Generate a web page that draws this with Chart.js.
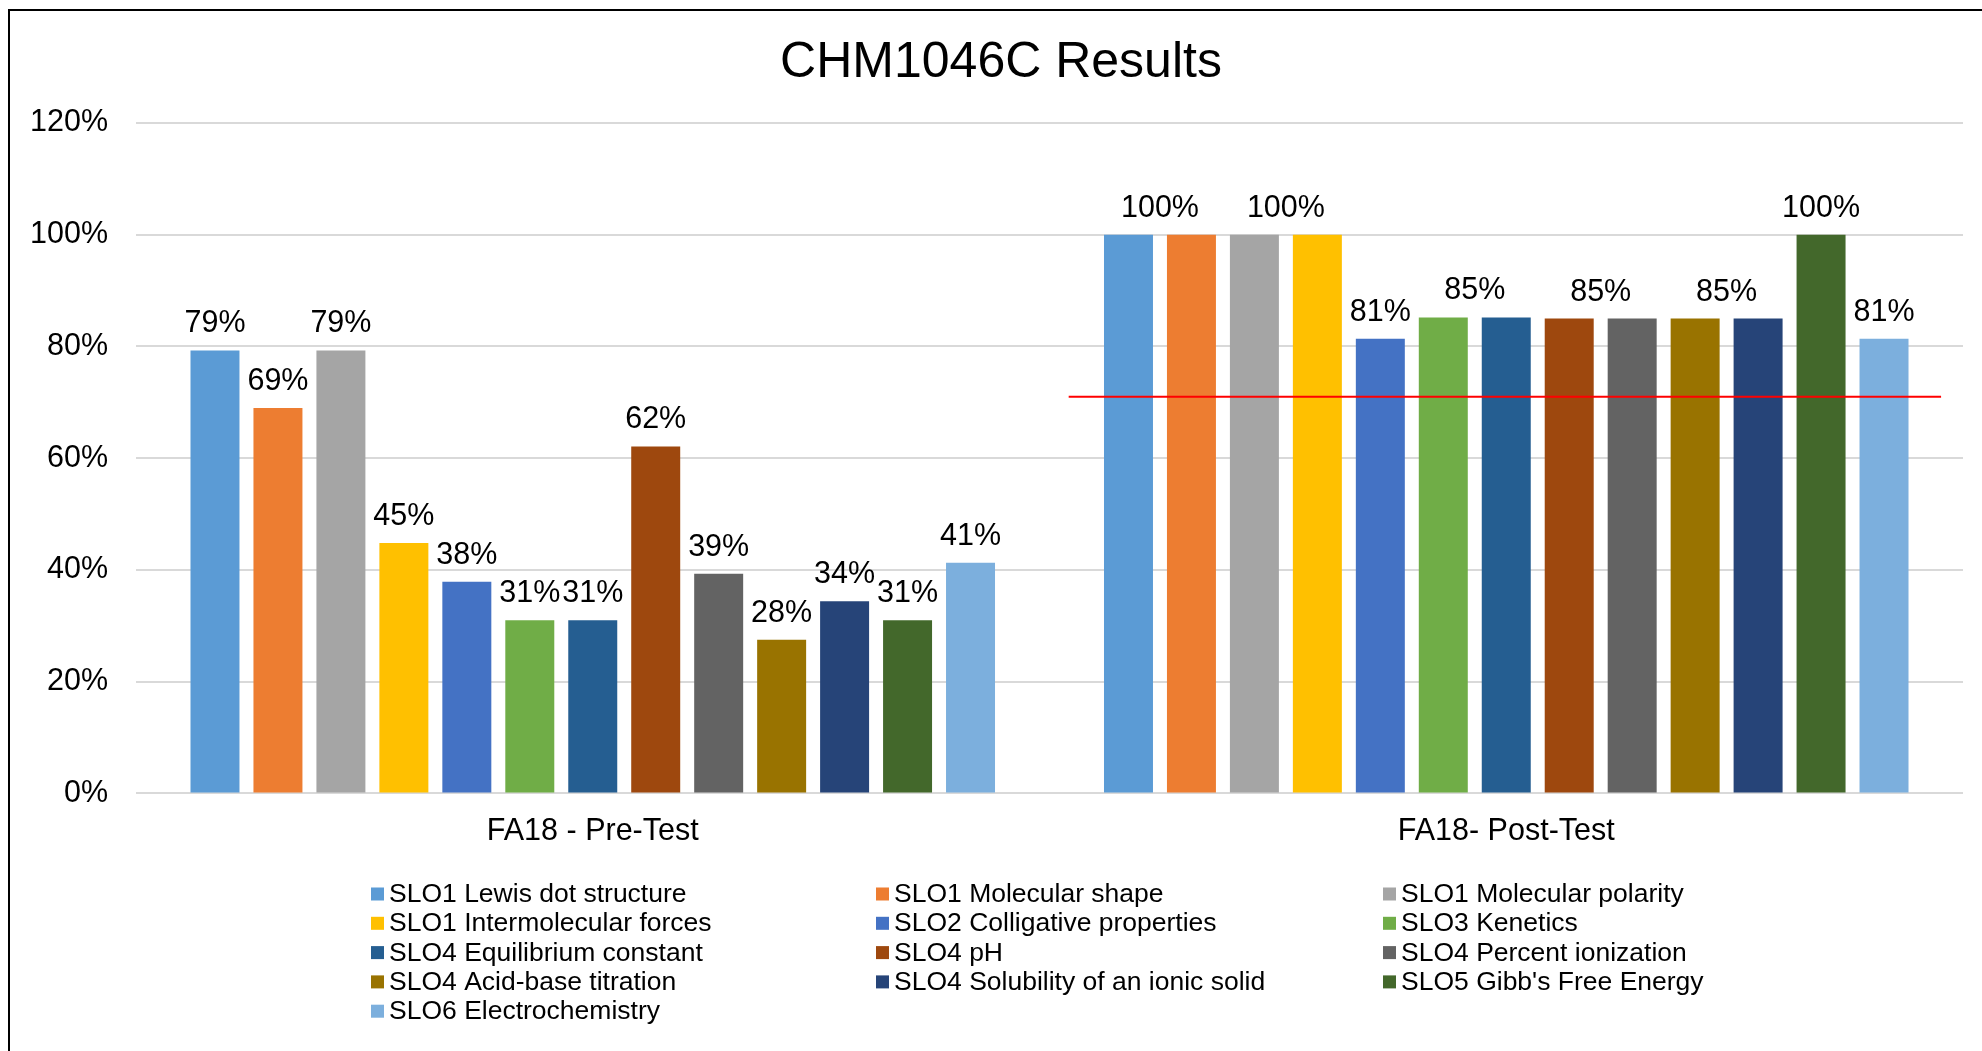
<!DOCTYPE html>
<html><head><meta charset="utf-8">
<script src="https://cdn.jsdelivr.net/npm/chart.js@4.4.1/dist/chart.umd.min.js"></script>
<style>
html,body{margin:0;padding:0;background:#fff;overflow:hidden;}
#wrap{position:relative;width:1982px;height:1051px;}
#c{position:absolute;left:0;top:0;}
#frame{position:absolute;left:8px;top:9px;width:2000px;height:1100px;border-top:2px solid #000;border-left:2px solid #000;pointer-events:none;}
</style></head><body>
<div id="wrap"><canvas id="c" width="1982" height="1051"></canvas><div id="frame"></div></div>
<script>
const chartTitle = 'CHM1046C Results';
const categories = ['FA18 - Pre-Test', 'FA18- Post-Test'];
const seriesNames = [
  'SLO1 Lewis dot structure', 'SLO1 Molecular shape', 'SLO1 Molecular polarity',
  'SLO1 Intermolecular forces', 'SLO2 Colligative properties', 'SLO3 Kenetics',
  'SLO4 Equilibrium constant', 'SLO4 pH', 'SLO4 Percent ionization',
  'SLO4 Acid-base titration', 'SLO4 Solubility of an ionic solid', "SLO5 Gibb's Free Energy",
  'SLO6 Electrochemistry'
];
const seriesColors = ['#5B9BD5','#ED7D31','#A5A5A5','#FFC000','#4472C4','#70AD47','#255E91','#9E480E','#636363','#997300','#264478','#43682B','#7CAFDD'];
const preTest  = [0.793, 0.690, 0.793, 0.448, 0.379, 0.310, 0.310, 0.621, 0.393, 0.275, 0.344, 0.310, 0.413];
const postTest = [1.000, 1.000, 1.000, 1.000, 0.814, 0.852, 0.852, 0.850, 0.850, 0.850, 0.850, 1.000, 0.814];
// which data labels are shown: 'self' above own bar, 'pair' centred over this bar and the next, 'none'
const preLabelModes  = ['self','self','self','self','self','self','self','self','self','self','self','self','self'];
const postLabelModes = ['pair','none','pair','none','self','pair','none','pair','none','pair','none','self','self'];
const targetValue = 0.71;      // red reference line value
const targetCategory = 1;      // drawn across the post-test group
const yTicks = [0, 0.2, 0.4, 0.6, 0.8, 1.0, 1.2];

const FONT = '"Liberation Sans", Arial, sans-serif';
Chart.defaults.font.family = FONT;
Chart.defaults.color = '#000';

const datasets = seriesNames.map((name, i) => ({
  label: name,
  data: [preTest[i], postTest[i]],
  backgroundColor: seriesColors[i],
  borderWidth: 0,
  categoryPercentage: 0.896,
  barPercentage: 0.778
}));

const titlePlugin = {
  id: 'customTitle',
  afterDraw(chart) {
    const ctx = chart.ctx;
    ctx.save();
    ctx.font = '50px ' + FONT;
    ctx.fillStyle = '#000';
    ctx.textAlign = 'center';
    ctx.textBaseline = 'alphabetic';
    ctx.fillText(chartTitle, chart.width / 2 + 10, 77);
    ctx.restore();
  }
};

const targetPlugin = {
  id: 'targetLine',
  afterDatasetsDraw(chart) {
    const xs = chart.scales.x, ys = chart.scales.y;
    const cw = xs.width / categories.length;
    const cx = xs.getPixelForValue(targetCategory);
    const y = ys.getPixelForValue(targetValue);
    const ctx = chart.ctx;
    ctx.save();
    ctx.strokeStyle = '#FF0000';
    ctx.lineWidth = 2;
    ctx.beginPath();
    ctx.moveTo(cx - cw * 0.479, y);
    ctx.lineTo(cx + cw * 0.476, y);
    ctx.stroke();
    ctx.restore();
  }
};

const labelPlugin = {
  id: 'barLabels',
  afterDatasetsDraw(chart) {
    const ctx = chart.ctx;
    ctx.save();
    ctx.font = '30.5px ' + FONT;
    ctx.fillStyle = '#000';
    ctx.textAlign = 'center';
    ctx.textBaseline = 'alphabetic';
    const modes = [preLabelModes, postLabelModes];
    const n = chart.data.datasets.length;
    for (let k = 0; k < n; k++) {
      const meta = chart.getDatasetMeta(k);
      meta.data.forEach((bar, j) => {
        const mode = modes[j][k];
        if (mode === 'none') return;
        let x = bar.x;
        if (mode === 'pair') {
          const nb = chart.getDatasetMeta(k + 1).data[j];
          x = (bar.x + nb.x) / 2;
        }
        const v = chart.data.datasets[k].data[j];
        ctx.fillText(Math.round(v * 100) + '%', x, bar.y - 18);
      });
    }
    ctx.restore();
  }
};

const legendPlugin = {
  id: 'gridLegend',
  afterDraw(chart) {
    const ctx = chart.ctx;
    const cols = 3, colX = [371, 876, 1383], row0 = 894, rowH = 29.3;
    ctx.save();
    ctx.font = '26.5px ' + FONT;
    ctx.textBaseline = 'alphabetic';
    ctx.textAlign = 'left';
    seriesNames.forEach((name, i) => {
      const r = Math.floor(i / cols), c = i % cols;
      const x = colX[c], y = row0 + r * rowH;
      ctx.fillStyle = seriesColors[i];
      ctx.fillRect(x, y - 6.5, 13, 13);
      ctx.fillStyle = '#000';
      ctx.fillText(name, x + 18, y + 8);
    });
    ctx.restore();
  }
};

new Chart(document.getElementById('c'), {
  type: 'bar',
  data: { labels: categories, datasets },
  plugins: [targetPlugin, labelPlugin, legendPlugin, titlePlugin],
  options: {
    responsive: false,
    animation: false,
    layout: { padding: { left: 2, right: 19, top: 123, bottom: 189 } },
    plugins: {
      legend: { display: false },
      tooltip: { enabled: false },
      title: { display: false }
    },
    scales: {
      x: {
        grid: { display: false }, border: { display: false },
        ticks: { font: { size: 30.5 }, color: '#000', padding: 12 }
      },
      y: {
        min: 0, max: 1.2,
        afterBuildTicks: s => { s.ticks = yTicks.map(v => ({ value: v })); },
        ticks: { font: { size: 30.5 }, color: '#000', padding: 28, callback: v => Math.round(v * 100) + '%' },
        grid: { color: '#D9D9D9', lineWidth: 2, drawTicks: false },
        border: { display: false }
      }
    }
  }
});
</script>
</body></html>
